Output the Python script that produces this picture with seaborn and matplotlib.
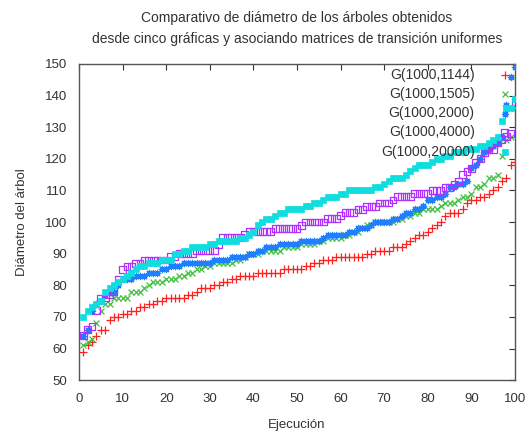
import matplotlib
matplotlib.use("Agg")
import matplotlib.pyplot as plt
import seaborn as sns
import pandas as pd

ejecucion = list(range(1, 101))

g_1144 = [59, 61, 62, 64, 66, 66, 69, 70, 70, 71,
          71, 72, 72, 73, 73, 74, 74, 75, 75, 76,
          76, 76, 76, 76, 77, 77, 78, 79, 79, 79,
          80, 80, 81, 81, 82, 82, 83, 83, 83, 83,
          84, 84, 84, 84, 84, 84, 85, 85, 85, 85,
          85, 86, 86, 87, 87, 88, 88, 88, 89, 89,
          89, 89, 89, 89, 89, 90, 90, 91, 91, 91,
          91, 92, 92, 92, 93, 94, 95, 96, 96, 97,
          98, 99, 100, 102, 103, 103, 103, 104, 106, 107,
          107, 108, 108, 109, 110, 111, 113, 114, 118, 119]

g_1505 = [61, 62, 63, 68, 72, 74, 74, 76, 76, 76,
          76, 78, 78, 78, 79, 80, 81, 81, 81, 82,
          82, 82, 83, 83, 84, 84, 85, 85, 86, 86,
          87, 87, 87, 87, 87, 88, 88, 89, 90, 90,
          90, 91, 91, 91, 91, 91, 92, 92, 92, 92,
          93, 93, 93, 93, 94, 94, 95, 95, 95, 95,
          96, 96, 97, 97, 98, 99, 99, 100, 100, 100,
          100, 100, 101, 101, 102, 102, 103, 103, 104, 104,
          104, 104, 105, 106, 106, 106, 107, 108, 108, 109,
          111, 111, 112, 114, 114, 115, 121, 126, 127, 136]

g_2000 = [64, 66, 72, 74, 75, 77, 78, 78, 80, 82,
          82, 82, 83, 83, 83, 84, 84, 84, 85, 85,
          86, 86, 86, 87, 87, 87, 87, 87, 87, 87,
          88, 88, 88, 88, 89, 89, 89, 89, 90, 90,
          91, 91, 92, 92, 92, 93, 93, 93, 93, 93,
          94, 94, 94, 94, 94, 95, 96, 96, 96, 96,
          96, 97, 97, 98, 98, 98, 99, 100, 100, 100,
          100, 101, 101, 102, 103, 103, 104, 104, 105, 107,
          107, 108, 108, 109, 111, 111, 112, 112, 113, 117,
          118, 120, 122, 123, 124, 125, 127, 137, 146, 149]

g_4000 = [64, 66, 67, 72, 76, 76, 77, 78, 82, 85,
          86, 86, 87, 87, 88, 88, 88, 88, 88, 88,
          89, 89, 90, 90, 90, 90, 91, 91, 91, 91,
          91, 93, 95, 95, 95, 95, 95, 96, 97, 97,
          97, 97, 97, 97, 98, 98, 98, 98, 98, 98,
          99, 100, 100, 100, 100, 100, 101, 101, 101, 102,
          103, 103, 103, 104, 104, 105, 105, 105, 106, 106,
          106, 107, 108, 108, 108, 108, 109, 109, 109, 109,
          110, 110, 110, 111, 111, 112, 113, 115, 116, 117,
          119, 120, 122, 123, 123, 125, 126, 127, 128, 138]

g_20000 = [70, 72, 73, 74, 75, 78, 79, 80, 81, 82,
           83, 84, 85, 86, 86, 87, 87, 87, 88, 88,
           88, 90, 90, 91, 91, 92, 92, 92, 92, 93,
           93, 94, 94, 94, 94, 94, 95, 95, 96, 97,
           99, 100, 101, 101, 102, 103, 103, 104, 104, 104,
           104, 105, 105, 106, 106, 107, 108, 108, 108, 109,
           109, 110, 110, 110, 110, 110, 110, 111, 111, 112,
           113, 114, 114, 114, 115, 116, 117, 118, 118, 118,
           119, 120, 120, 121, 121, 122, 122, 122, 123, 123,
           123, 124, 124, 125, 126, 127, 132, 136, 136, 139]

labels = ["G(1000,1144)", "G(1000,1505)", "G(1000,2000)", "G(1000,4000)", "G(1000,20000)"]
series = [g_1144, g_1505, g_2000, g_4000, g_20000]
x_ticks = list(range(0, 101, 10))
y_ticks = list(range(50, 151, 10))

sns.set_theme(style="white")
plt.rcParams['font.family'] = ['Liberation Sans', 'DejaVu Sans']

fig = plt.figure(figsize=(5.32, 4.32), dpi=100)
ax = fig.add_axes([0.1485, 0.120, 0.8195, 0.732])

styles = [
    dict(marker="+", color="#ff2020", s=26, linewidth=0.9),
    dict(marker="x", color="#40c040", s=18, linewidth=0.9),
    dict(marker=(8, 2, 0), color="#1e7fff", s=20, linewidth=0.9),
    dict(marker="s", facecolor="none", edgecolor="#b030ff", s=24, linewidth=0.9),
    dict(marker="s", color="#10dede", edgecolor="#10dede", s=22, linewidth=0.5),
]

for lab, vals, st in zip(labels, series, styles):
    df = pd.DataFrame({"x": ejecucion, "y": vals})
    sns.scatterplot(data=df, x="x", y="y", ax=ax, label=lab, zorder=3, **st)

ax.set_xlim(0, 100)
ax.set_ylim(50, 150)
ax.set_xticks(x_ticks)
ax.set_yticks(y_ticks)
ax.tick_params(direction="in", top=True, right=True, length=4, width=0.8,
               labelsize=9.5, colors="#333333")
ax.tick_params(axis="x", pad=9)
ax.tick_params(axis="y", pad=8.5)
for sp in ax.spines.values():
    sp.set_color("#555555")
    sp.set_linewidth(1.0)
    sp.set_visible(True)

ax.set_xlabel("Ejecución", fontsize=9.5, color="#333333", labelpad=10)
ax.set_ylabel("Diámetro del árbol", fontsize=9.5, color="#333333", labelpad=12)
ax.set_title("Comparativo de diámetro de los árboles obtenidos\n"
             "desde cinco gráficas y asociando matrices de transición uniformes",
             fontsize=10, color="#333333", pad=15, linespacing=1.65)

leg = ax.legend(loc="upper right", markerfirst=False, frameon=False,
                fontsize=10, handletextpad=1.56, labelspacing=0.38,
                handlelength=1.2, borderpad=0.2, borderaxespad=0,
                bbox_to_anchor=(1.002, 0.997))
for t in leg.get_texts():
    t.set_ha("right")
    t.set_color("#333333")

fig.savefig("out.png", dpi=100)
